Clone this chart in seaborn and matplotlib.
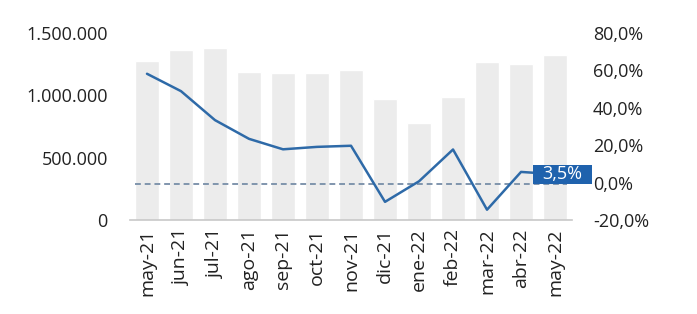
import matplotlib
matplotlib.use("Agg")
import matplotlib.pyplot as plt
import seaborn as sns
import pandas as pd
import numpy as np
from matplotlib.ticker import FuncFormatter
from matplotlib.transforms import ScaledTranslation
from matplotlib.patches import Rectangle

sns.set_theme(style="white")
plt.rcParams['font.family'] = ['Open Sans', 'DejaVu Sans']

months = ["may-21", "jun-21", "jul-21", "ago-21", "sep-21", "oct-21", "nov-21",
          "dic-21", "ene-22", "feb-22", "mar-22", "abr-22", "may-22"]
volume = [1278000, 1364000, 1380000, 1190000, 1179000, 1179000, 1203000,
          973000, 776000, 984000, 1270000, 1254000, 1324000]
growth = [58.2, 48.9, 33.4, 23.4, 17.8, 19.1, 19.7,
          -10.3, 0.7, 17.7, -14.5, 5.7, 4.5]
ref_level = -1.0
last_label = "3,5%"

df = pd.DataFrame({"month": months, "volume": volume, "growth": growth})

fig = plt.figure(figsize=(6.97, 3.14), dpi=100)
ax = fig.add_axes([0.1865, 0.2994, 0.6342, 0.5955])

sns.barplot(data=df, x="month", y="volume", color="#ececec", width=0.7,
            saturation=1, ax=ax, zorder=1)
ax.set_xlim(-0.5, len(months) - 0.5)
ax.set_ylim(0, 1500000)
ax.set_yticks([0, 500000, 1000000, 1500000])
ax.yaxis.set_major_formatter(FuncFormatter(lambda v, p: f"{int(v):,}".replace(",", ".")))
ax.set_xlabel("")
ax.set_ylabel("")
ax.tick_params(axis="x", rotation=90, labelsize=14, colors="#222222", length=0, pad=6)
ax.tick_params(axis="y", labelsize=13, colors="#222222", length=0, pad=16)
for s in ["top", "right", "left"]:
    ax.spines[s].set_visible(False)
ax.spines["bottom"].set_color("#c8c8c8")
ax.spines["bottom"].set_linewidth(1.2)

ax2 = ax.twinx()
x = np.arange(len(months))
sns.lineplot(x=x, y=growth, ax=ax2, color="#2e6aa8", linewidth=1.8, zorder=3)
ax2.plot([-0.35, len(months) - 1 + 0.35], [ref_level, ref_level], linestyle=(0, (3, 2)),
         color="#8095ad", linewidth=1.4, zorder=2)
ax2.set_ylim(-20, 80)
ax2.set_yticks([-20, 0, 20, 40, 60, 80])
ax2.yaxis.set_major_formatter(FuncFormatter(lambda v, p: f"{v:.1f}%".replace(".", ",")))
ax2.tick_params(axis="y", labelsize=13, colors="#222222", length=0, pad=15)
for s in ["top", "right", "left", "bottom"]:
    ax2.spines[s].set_visible(False)
ax2.set_xlim(-0.5, len(months) - 0.5)

# value label box anchored on the last point, offsets in inches
anchor = fig.dpi_scale_trans + ScaledTranslation(len(months) - 1, growth[-1], ax2.transData)
box = Rectangle((-0.22, -0.095), 0.59, 0.19, transform=anchor, facecolor="#1f62ad",
                edgecolor="none", zorder=5, clip_on=False)
ax2.add_patch(box)
ax2.text(0.075, 0.0, last_label, transform=anchor, ha="center", va="center",
         color="white", fontsize=13, zorder=6, clip_on=False)

fig.savefig("out.png", dpi=100)
